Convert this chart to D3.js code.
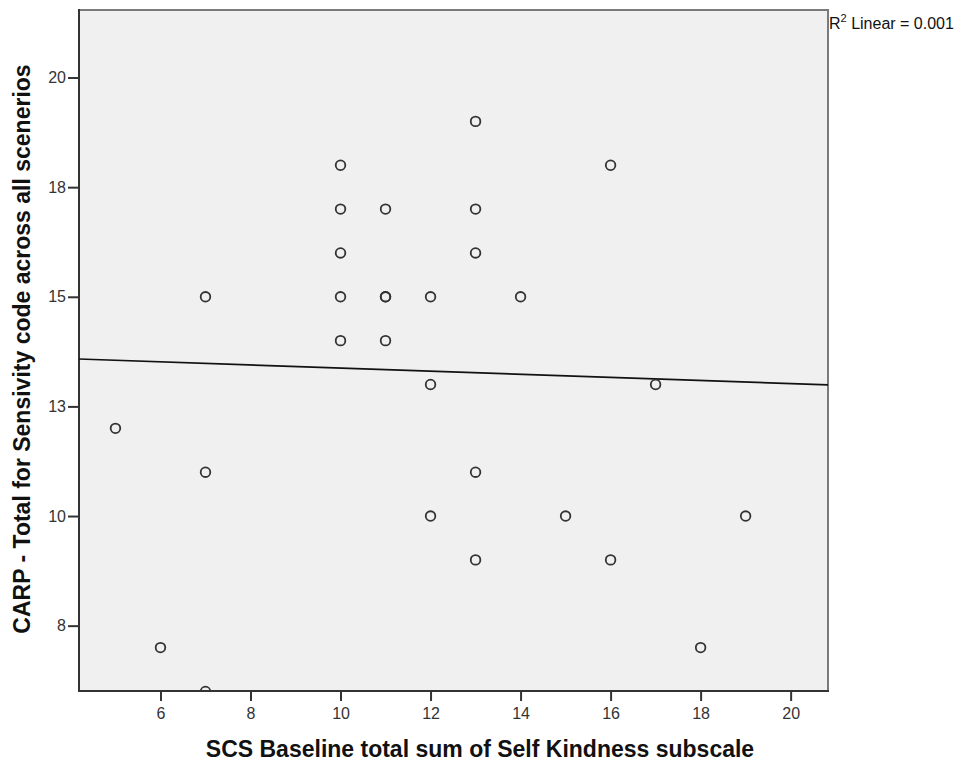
<!DOCTYPE html>
<html>
<head>
<meta charset="utf-8">
<script src="https://cdn.jsdelivr.net/npm/d3@7"></script>
<style>
  html, body { margin: 0; padding: 0; background: #fff; }
  svg { display: block; }
</style>
</head>
<body>
<svg id="chart" width="964" height="765"></svg>
<script>
// SCS self-kindness baseline (x) vs CARP sensitivity total (y)
const scsKindness = [5, 6, 7, 7, 7, 10, 10, 10, 10, 10, 11, 11, 11, 11, 12, 12, 12,
                     13, 13, 13, 13, 13, 14, 15, 16, 16, 17, 18, 19];
const carpTotal   = [12, 7, 15, 11, 6, 18, 17, 16, 15, 14, 17, 15, 15, 14, 15, 13, 10,
                     19, 17, 16, 11, 9, 15, 10, 18, 9, 13, 7, 10];

// Linear fit shown across the plot
const fitIntercept = 13.73;
const fitSlope = -0.0355;
const fitLabel = "Linear = 0.001";

const xTicks = [6, 8, 10, 12, 14, 16, 18, 20];
const xTickLabels = ["6", "8", "10", "12", "14", "16", "18", "20"];
const yTicks = [7.5, 10, 12.5, 15, 17.5, 20];
const yTickLabels = ["8", "10", "13", "15", "18", "20"];

const xTitle = "SCS Baseline total sum of Self Kindness subscale";
const yTitle = "CARP - Total for Sensivity code across all scenerios";

const svg = d3.select("#chart");
const font = "'Liberation Sans', Arial, sans-serif";

const plot = { left: 79, top: 10, right: 828, bottom: 691 };
const xDomain = [4.19, 20.83];
const yDomain = [6.01, 21.54];

const x = d3.scaleLinear().domain(xDomain).range([plot.left, plot.right]);
const y = d3.scaleLinear().domain(yDomain).range([plot.bottom, plot.top]);

// plot background
svg.append("rect")
  .attr("x", plot.left).attr("y", plot.top)
  .attr("width", plot.right - plot.left)
  .attr("height", plot.bottom - plot.top)
  .attr("fill", "#f0f0f0")
  .attr("stroke", "#7a7a7a")
  .attr("stroke-width", 2);

svg.append("clipPath").attr("id", "plotClip")
  .append("rect")
  .attr("x", plot.left).attr("y", plot.top)
  .attr("width", plot.right - plot.left)
  .attr("height", plot.bottom - plot.top);

// axes
const xAxis = d3.axisBottom(x)
  .tickValues(xTicks)
  .tickFormat((d, i) => xTickLabels[i])
  .tickSize(10).tickPadding(7).tickSizeOuter(0);
const yAxis = d3.axisLeft(y)
  .tickValues(yTicks)
  .tickFormat((d, i) => yTickLabels[i])
  .tickSize(11).tickPadding(2).tickSizeOuter(0);

const gx = svg.append("g")
  .attr("transform", `translate(0,${plot.bottom})`)
  .call(xAxis);
const gy = svg.append("g")
  .attr("transform", `translate(${plot.left},0)`)
  .call(yAxis);

gx.select(".domain").remove();
gy.select(".domain").remove();
[gx, gy].forEach(g => {
  g.attr("font-size", null).attr("font-family", null);
  g.selectAll(".tick line").attr("stroke", "#333").attr("stroke-width", 2);
  g.selectAll(".tick text")
    .attr("fill", "#333")
    .style("font-family", font)
    .style("font-size", "16px");
});

// dark axis lines on left and bottom
svg.append("line")
  .attr("x1", plot.left).attr("x2", plot.left)
  .attr("y1", plot.top - 1).attr("y2", plot.bottom + 1)
  .attr("stroke", "#333").attr("stroke-width", 2);
svg.append("line")
  .attr("x1", plot.left - 1).attr("x2", plot.right + 1)
  .attr("y1", plot.bottom).attr("y2", plot.bottom)
  .attr("stroke", "#333").attr("stroke-width", 2);

const inner = svg.append("g").attr("clip-path", "url(#plotClip)");

// fit line
inner.append("line")
  .attr("x1", x(xDomain[0])).attr("y1", y(fitIntercept + fitSlope * xDomain[0]))
  .attr("x2", x(xDomain[1])).attr("y2", y(fitIntercept + fitSlope * xDomain[1]))
  .attr("stroke", "#111").attr("stroke-width", 1.7);

// observations
inner.selectAll("circle.pt")
  .data(scsKindness.map((v, i) => [v, carpTotal[i]]))
  .join("circle")
  .attr("class", "pt")
  .attr("cx", d => x(d[0]))
  .attr("cy", d => y(d[1]))
  .attr("r", 4.8)
  .attr("fill", "none")
  .attr("stroke", "#333")
  .attr("stroke-width", 1.8);

// fit annotation
const r2 = svg.append("text")
  .attr("x", plot.right + 1).attr("y", 29)
  .attr("fill", "#111")
  .style("font-family", font)
  .style("font-size", "16px");
r2.append("tspan").text("R");
r2.append("tspan").attr("dy", -7).style("font-size", "11px").text("2");
r2.append("tspan").attr("dy", 7).text(" " + fitLabel);

// axis titles
svg.append("text")
  .attr("x", 480)
  .attr("y", 757)
  .attr("text-anchor", "middle")
  .attr("fill", "#111")
  .style("font-family", font)
  .style("font-weight", "bold")
  .style("font-size", "23px")
  .text(xTitle);

svg.append("text")
  .attr("transform", `translate(30,349) rotate(-90)`)
  .attr("text-anchor", "middle")
  .attr("fill", "#111")
  .style("font-family", font)
  .style("font-weight", "bold")
  .style("font-size", "23px")
  .text(yTitle);
</script>
</body>
</html>
